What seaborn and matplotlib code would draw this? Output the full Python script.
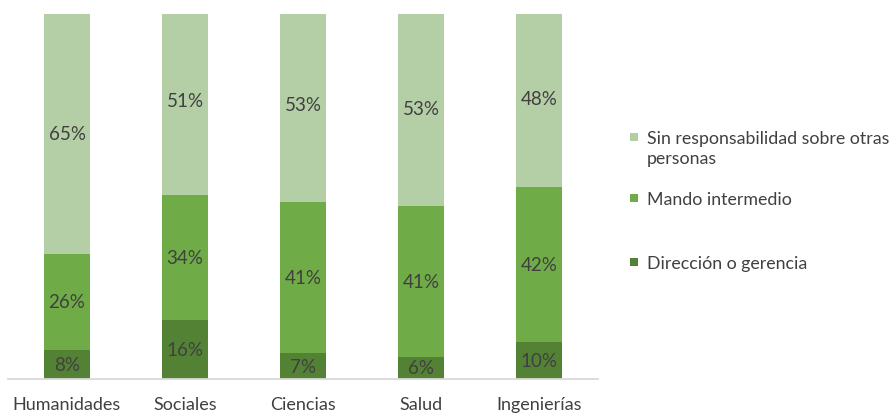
import numpy as np
import pandas as pd
import matplotlib
matplotlib.use("Agg")
import matplotlib.pyplot as plt
import seaborn as sns
from matplotlib.patches import Rectangle

# Distribución por rama de conocimiento (%)
categorias = ["Humanidades", "Sociales", "Ciencias", "Salud", "Ingenierías"]
direccion = [8, 16, 7, 6, 10]
mando = [26, 34, 41, 41, 42]
sin_resp = [65, 51, 53, 53, 48]

series = ["Dirección o gerencia", "Mando intermedio",
          "Sin responsabilidad sobre otras\npersonas"]
colores = ["#548235", "#6fac47", "#b4cea6"]
texto = "#404040"

sns.set_theme(style="white")
plt.rcParams["font.family"] = ["Lato", "DejaVu Sans"]

capas = [np.array(direccion), np.array(mando), np.array(sin_resp)]
acumulado = np.cumsum(capas, axis=0)

W, H = 893, 414
fig = plt.figure(figsize=(W / 100, H / 100), dpi=100)
ax = fig.add_axes([8 / W, 34 / H, 590 / W, 365 / H])

# barras apiladas: se dibuja primero el total y encima los tramos inferiores
for k in range(2, -1, -1):
    df = pd.DataFrame({"cat": categorias, "val": acumulado[k]})
    sns.barplot(data=df, x="cat", y="val", color=colores[k], saturation=1,
                width=0.395, errorbar=None, ax=ax, order=categorias,
                linewidth=0, edgecolor="none")

# etiquetas de porcentaje centradas en cada tramo
for k in range(3):
    base = acumulado[k] - capas[k]
    for i, v in enumerate(capas[k]):
        ax.text(i, base[i] + v / 2, f"{v}%", ha="center", va="center",
                fontsize=13.5, color=texto)

ax.set_xlim(-0.5, 4.5)
ax.set_ylim(0, 99)
ax.set_xlabel("")
ax.set_ylabel("")
ax.set_yticks([])
for s in ["top", "left", "right"]:
    ax.spines[s].set_visible(False)
ax.spines["bottom"].set_color("#d9d9d9")
ax.spines["bottom"].set_linewidth(1.3)
ax.tick_params(axis="x", length=0, pad=12, labelsize=13, labelcolor=texto)

# leyenda
entradas = [(2, 138), (1, 199), (0, 263)]
for k, yc in entradas:
    fig.add_artist(Rectangle((630 / W, 1 - (yc + 4) / H), 8 / W, 8 / H,
                             transform=fig.transFigure, color=colores[k], lw=0))
    fig.text(647 / W, 1 - (yc - 7) / H, series[k], ha="left", va="top",
             fontsize=12.8, color=texto, linespacing=1.3)

fig.savefig("out.png", dpi=100)
